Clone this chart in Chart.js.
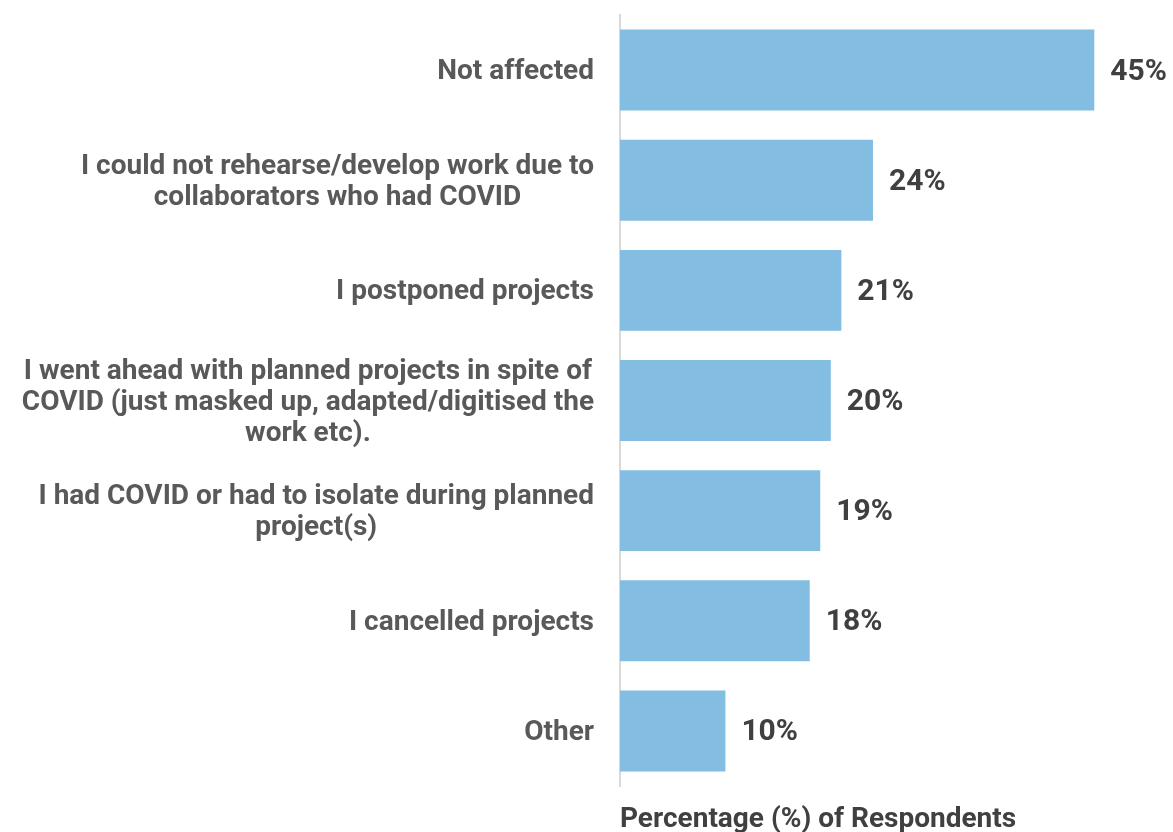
<!DOCTYPE html>
<html>
<head>
<meta charset="utf-8">
<script src="https://cdn.jsdelivr.net/npm/chart.js@4"></script>
<style>
  html, body { margin: 0; padding: 0; background: #fff; }
  #wrap { width: 1173px; height: 832px; }
</style>
</head>
<body>
<div id="wrap"><canvas id="impactChart"></canvas></div>
<script>
// Survey answers, each label split into its display lines
const categories = [
  ['Not affected'],
  ['I could not rehearse/develop work due to', 'collaborators who had COVID'],
  ['I postponed projects'],
  ['I went ahead with planned projects in spite of', 'COVID (just masked up, adapted/digitised the', 'work etc).'],
  ['I had COVID or had to isolate during planned', 'project(s)'],
  ['I cancelled projects'],
  ['Other'],
];
const percentages = [45, 24, 21, 20, 19, 18, 10];
const axisTitle = 'Percentage (%) of Respondents';

const FONT = 'Roboto, "Liberation Sans", sans-serif';
const LABEL_SIZE = 28;

// Category labels: block right-aligned to the axis, each line centred in its block
const categoryLabels = {
  id: 'categoryLabels',
  afterDraw(chart) {
    const { ctx, chartArea } = chart;
    const y = chart.scales.y;
    const lineH = 31;
    ctx.save();
    ctx.font = `bold ${LABEL_SIZE}px ${FONT}`;
    ctx.fillStyle = '#595959';
    ctx.textAlign = 'center';
    ctx.textBaseline = 'middle';
    categories.forEach((lines, i) => {
      const blockW = Math.max(...lines.map(l => ctx.measureText(l).width));
      const cx = chartArea.left - 26 - blockW / 2;
      const cy = y.getPixelForValue(i) + 2;
      lines.forEach((line, j) => {
        ctx.fillText(line, cx, cy + (j - (lines.length - 1) / 2) * lineH);
      });
    });
    ctx.restore();
  }
};

// Percentage labels at the end of each bar
const valueLabels = {
  id: 'valueLabels',
  afterDatasetsDraw(chart) {
    const { ctx } = chart;
    const meta = chart.getDatasetMeta(0);
    ctx.save();
    ctx.font = `bold 30px ${FONT}`;
    ctx.fillStyle = '#404040';
    ctx.textAlign = 'left';
    ctx.textBaseline = 'middle';
    meta.data.forEach((bar, i) => {
      ctx.fillText(percentages[i] + '%', bar.x + 16, bar.y + 2);
    });
    ctx.restore();
  }
};

const chart = new Chart(document.getElementById('impactChart'), {
  type: 'bar',
  data: {
    labels: categories.map(l => l.join(' ')),
    datasets: [{
      data: percentages,
      backgroundColor: '#83bde1',
      barPercentage: 0.735,
      categoryPercentage: 1,
    }],
  },
  options: {
    indexAxis: 'y',
    responsive: true,
    maintainAspectRatio: false,
    animation: false,
    layout: { padding: { left: 612, right: 26, top: 15, bottom: -2 } },
    plugins: {
      legend: { display: false },
      tooltip: { enabled: false },
    },
    scales: {
      x: {
        min: 0,
        max: 50,
        grid: { display: false },
        border: { display: false },
        ticks: { display: false },
        title: {
          display: true,
          text: axisTitle,
          align: 'start',
          color: '#404040',
          font: { family: FONT, size: 28, weight: 'bold', lineHeight: 1 },
          padding: { top: 12, bottom: 0 },
        },
      },
      y: {
        grid: { display: false },
        border: { display: true, color: '#d9d9d9', width: 2 },
        ticks: { display: false },
      },
    },
  },
  plugins: [categoryLabels, valueLabels],
});
</script>
</body>
</html>
